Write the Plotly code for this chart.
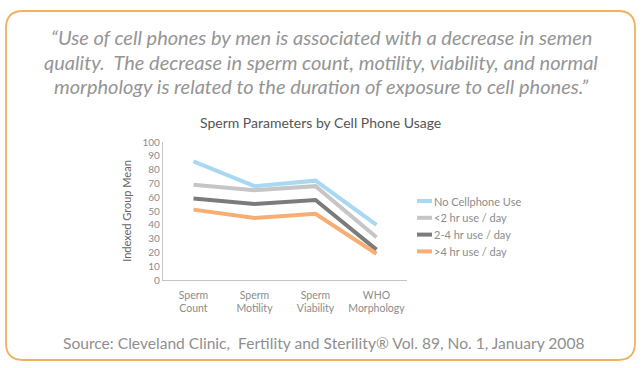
import plotly.graph_objects as go

categories = ["Sperm<br>Count", "Sperm<br>Motility", "Sperm<br>Viability", "WHO<br>Morphology"]
series_names = ["No Cellphone Use", "<2 hr use / day", "2-4 hr use / day", ">4 hr use / day"]
no_use = [86, 68, 72, 40]
under_2h = [69, 65, 68, 31]
h2_to_4 = [59, 55, 58, 22]
over_4h = [51, 45, 48, 19]
y_ticks = list(range(0, 101, 10))
quote_lines = [
    "“Use of cell phones by men is associated with a decrease in semen",
    "quality.  The decrease in sperm count, motility, viability, and normal",
    "morphology is related to the duration of exposure to cell phones.”",
]

series_values = [no_use, under_2h, h2_to_4, over_4h]
colors = ["#a9d8f2", "#c6c6c6", "#7b7b7b", "#f6ae74"]

W, H = 642, 368
L, R, T, B = 163, 407, 142, 280  # plot area in px


def px(x):
    return (x - L) / (R - L)


def py(y):
    return (B - y) / (B - T)


fig = go.Figure()
for name, vals, col in zip(series_names, series_values, colors):
    fig.add_trace(go.Scatter(
        x=categories, y=vals, name=name, mode="lines",
        line=dict(color=col, width=4),
        hoverinfo="skip", showlegend=False,
    ))

# legend drawn as keys + labels (from series_names / colors)
for i, (name, col) in enumerate(zip(series_names, colors)):
    ly = 201 + i * 16.8
    fig.add_shape(type="line", xref="paper", yref="paper",
                  x0=px(417), x1=px(432), y0=py(ly), y1=py(ly),
                  line=dict(color=col, width=4))
    fig.add_annotation(text=name, xref="paper", yref="paper", x=px(432), y=py(ly),
                       showarrow=False, xanchor="left", yanchor="middle",
                       font=dict(family="Lato", size=11, color="#8c8c8c"))

# rounded border
x0, x1, y0, y1, r = 6, 635, 11, 360, 17
path = (
    f"M {px(x0 + r)},{py(y0)} L {px(x1 - r)},{py(y0)} "
    f"Q {px(x1)},{py(y0)} {px(x1)},{py(y0 + r)} "
    f"L {px(x1)},{py(y1 - r)} Q {px(x1)},{py(y1)} {px(x1 - r)},{py(y1)} "
    f"L {px(x0 + r)},{py(y1)} Q {px(x0)},{py(y1)} {px(x0)},{py(y1 - r)} "
    f"L {px(x0)},{py(y0 + r)} Q {px(x0)},{py(y0)} {px(x0 + r)},{py(y0)} Z"
)
fig.add_shape(type="path", path=path, xref="paper", yref="paper",
              line=dict(color="#f0b261", width=1.8), layer="below")

for line_text, ypix in zip(quote_lines, [37, 61.5, 86]):
    fig.add_annotation(text=line_text, xref="paper", yref="paper", x=px(321), y=py(ypix),
                       showarrow=False, xanchor="center", yanchor="middle",
                       font=dict(family="Lato", size=20, color="#959595", style="italic"))

fig.add_annotation(text="Sperm Parameters by Cell Phone Usage", xref="paper", yref="paper",
                   x=px(320), y=py(122), showarrow=False, xanchor="center", yanchor="middle",
                   font=dict(family="Lato", size=14, color="#555555"))

fig.add_annotation(text="Source: Cleveland Clinic,  Fertility and Sterility® Vol. 89, No. 1, January 2008",
                   xref="paper", yref="paper", x=px(323), y=py(343), showarrow=False,
                   xanchor="center", yanchor="middle",
                   font=dict(family="Lato", size=15.6, color="#8f8f8f"))

fig.update_layout(
    width=W, height=H,
    margin=dict(l=L, r=W - R, t=T, b=H - B),
    paper_bgcolor="white", plot_bgcolor="white",
    font=dict(family="Lato", color="#8c8c8c"),
    showlegend=False,
    xaxis=dict(type="category", range=[-0.5, 3.5], showline=True, linecolor="#c4c4c4",
               linewidth=1.2, showgrid=False, zeroline=False, ticks="",
               ticklabelstandoff=5,
               tickfont=dict(size=10.5, color="#8c8c8c"), fixedrange=True),
    yaxis=dict(range=[0, 100], tickvals=y_ticks, showline=True, linecolor="#c4c4c4",
               linewidth=1.2, showgrid=False, zeroline=False, ticks="",
               tickfont=dict(size=10, color="#8c8c8c"),
               title=dict(text="Indexed Group Mean", font=dict(size=11, color="#666666"),
                          standoff=8), fixedrange=True),
)

fig.write_html("out.html", config={"displayModeBar": False},
               post_script="document.body.style.margin='0';")
